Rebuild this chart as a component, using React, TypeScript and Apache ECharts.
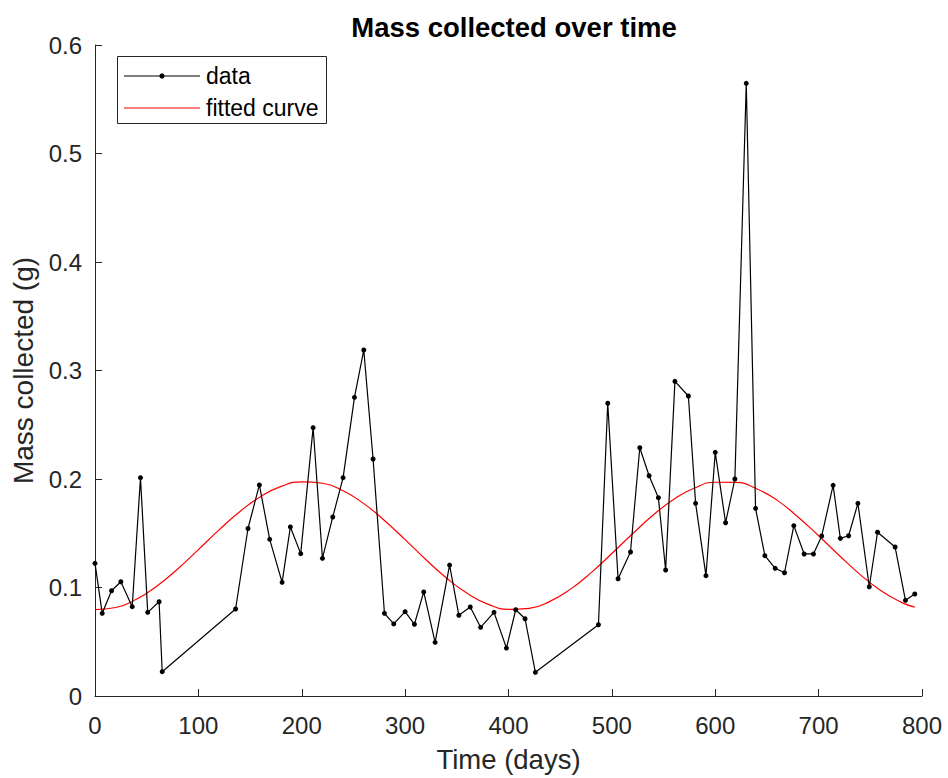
import React, { useEffect, useRef } from "react";
import * as echarts from "echarts";

const days = [0, 7, 16, 25, 36, 44, 51, 62, 65, 136, 148, 159, 169, 181, 189, 199, 211, 220, 230, 240, 251, 260, 269, 280, 289, 300, 309, 318, 329, 343, 352, 363, 373, 386, 398, 407, 416, 426, 487, 496, 506, 518, 527, 536, 545, 552, 561, 574, 581, 591, 600, 610, 619, 630, 639, 648, 658, 667, 676, 686, 695, 703, 714, 721, 729, 738, 749, 757, 774, 784, 793];
const mass = [0.1223, 0.0762, 0.097, 0.1053, 0.0823, 0.2012, 0.0771, 0.0869, 0.0224, 0.0802, 0.1544, 0.1945, 0.1444, 0.1048, 0.1558, 0.1312, 0.2473, 0.1269, 0.165, 0.2012, 0.2753, 0.3189, 0.2184, 0.0762, 0.0664, 0.0777, 0.0661, 0.0959, 0.0495, 0.1207, 0.0744, 0.082, 0.0633, 0.0771, 0.0442, 0.0795, 0.0712, 0.0218, 0.0657, 0.2698, 0.1081, 0.1327, 0.2288, 0.203, 0.1828, 0.1161, 0.29, 0.2765, 0.1776, 0.1109, 0.2246, 0.1597, 0.2, 0.5647, 0.173, 0.1293, 0.1177, 0.1136, 0.157, 0.1309, 0.1309, 0.1475, 0.1942, 0.1453, 0.1477, 0.1776, 0.1007, 0.1509, 0.1373, 0.0882, 0.094];

const fitDays = [0, 20, 40, 60, 80, 100, 120, 140, 160, 180, 200, 220, 240, 260, 280, 300, 320, 340, 360, 380, 400, 420, 440, 460, 480, 500, 520, 540, 560, 580, 600, 620, 640, 660, 680, 700, 720, 740, 760, 780, 793];
const fitMass = [0.0797, 0.0816, 0.0891, 0.1013, 0.1171, 0.1349, 0.1531, 0.1699, 0.1837, 0.1932, 0.1974, 0.1961, 0.1892, 0.1773, 0.1618, 0.1441, 0.1258, 0.1088, 0.0946, 0.0847, 0.0799, 0.0808, 0.0872, 0.0985, 0.1137, 0.1313, 0.1495, 0.1668, 0.1813, 0.1917, 0.197, 0.1968, 0.191, 0.1803, 0.165, 0.1477, 0.1295, 0.1121, 0.0973, 0.0863, 0.0819];

const legendNames = ["data", "fitted curve"];

const FONT = "'Liberation Sans', Arial, Helvetica, sans-serif";
const AX = "#262626";

export default function App() {
  const ref = useRef<HTMLDivElement>(null);
  useEffect(() => {
    if (!ref.current) return;
    const chart = echarts.init(ref.current, undefined, { renderer: "svg" });
    chart.setOption({
      animation: false,
      backgroundColor: "#ffffff",
      title: {
        text: "Mass collected over time",
        left: 509,
        top: 8,
        textAlign: "center",
        textStyle: { fontFamily: FONT, fontWeight: "bold", fontSize: 27.5, color: "#000" },
      },
      grid: { left: 95, right: 26, top: 45, bottom: 82, containLabel: false },
      xAxis: {
        type: "value",
        min: 0,
        max: 800,
        interval: 100,
        name: "Time (days)",
        nameLocation: "middle",
        nameGap: 49,
        nameTextStyle: { fontFamily: FONT, fontSize: 27.5, color: AX },
        axisLine: { show: true, lineStyle: { color: AX, width: 1 } },
        axisTick: { show: true, inside: true, length: 7, lineStyle: { color: AX } },
        axisLabel: { fontFamily: FONT, fontSize: 24, color: AX, margin: 17 },
        splitLine: { show: false },
      },
      yAxis: {
        type: "value",
        min: 0,
        max: 0.6,
        interval: 0.1,
        name: "Mass collected (g)",
        nameLocation: "middle",
        nameGap: 57,
        nameTextStyle: { fontFamily: FONT, fontSize: 28, color: AX },
        axisLine: { show: true, lineStyle: { color: AX, width: 1 } },
        axisTick: { show: true, inside: true, length: 7, lineStyle: { color: AX } },
        axisLabel: { fontFamily: FONT, fontSize: 24, color: AX, margin: 13 },
        splitLine: { show: false },
      },
      graphic: [
        {
          type: "group",
          z: 100,
          children: [
            {
              type: "rect",
              shape: { x: 117.5, y: 56.5, width: 209, height: 67 },
              style: { fill: "#fff", stroke: AX, lineWidth: 1 },
            },
            {
              type: "line",
              shape: { x1: 124, y1: 76, x2: 200, y2: 76 },
              style: { stroke: "#000", lineWidth: 1.2 },
            },
            {
              type: "circle",
              shape: { cx: 162, cy: 76, r: 2.6 },
              style: { fill: "#000" },
            },
            {
              type: "text",
              x: 206,
              y: 76,
              style: { text: legendNames[0], fontFamily: FONT, fontSize: 23, fill: "#000", verticalAlign: "middle" },
            },
            {
              type: "line",
              shape: { x1: 124, y1: 108, x2: 200, y2: 108 },
              style: { stroke: "#ff0000", lineWidth: 1.2 },
            },
            {
              type: "text",
              x: 206,
              y: 108,
              style: { text: legendNames[1], fontFamily: FONT, fontSize: 23, fill: "#000", verticalAlign: "middle" },
            },
          ],
        },
      ],
      series: [
        {
          name: legendNames[0],
          type: "line",
          data: days.map((d, i) => [d, mass[i]]),
          symbol: "circle",
          symbolSize: 5,
          showSymbol: true,
          lineStyle: { color: "#000", width: 1.2 },
          itemStyle: { color: "#000" },
          z: 3,
        },
        {
          name: legendNames[1],
          type: "line",
          data: fitDays.map((d, i) => [d, fitMass[i]]),
          symbol: "none",
          smooth: 0.5,
          lineStyle: { color: "#ff0000", width: 1.2 },
          itemStyle: { color: "#ff0000" },
          z: 2,
        },
      ],
    });
    return () => chart.dispose();
  }, []);
  return (
    <div
      ref={ref}
      style={{ position: "absolute", left: 0, top: 0, width: 948, height: 778, background: "#fff" }}
    />
  );
}
